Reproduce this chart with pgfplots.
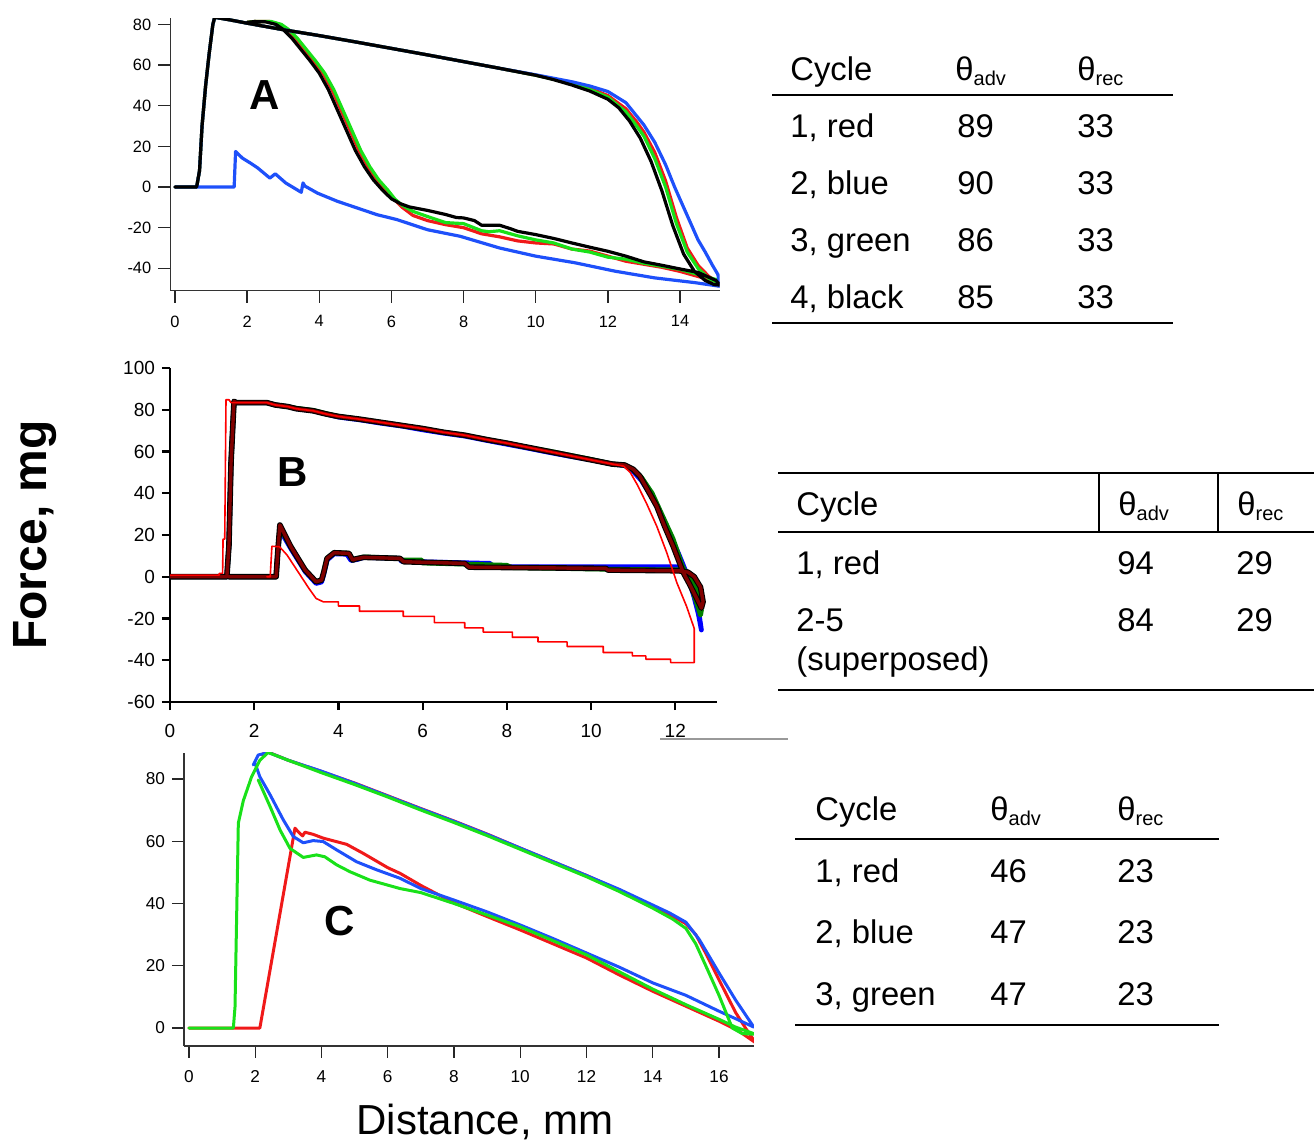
\documentclass[border=0pt]{standalone}
\usepackage{fontspec}
\setmainfont{Liberation Sans}
\usepackage{pgfplots}
\pgfplotsset{compat=1.18}

\definecolor{aRed}{RGB}{240,25,25}
\definecolor{aGreen}{RGB}{25,225,25}
\definecolor{aBlue}{RGB}{30,80,250}
\definecolor{bBlue}{RGB}{0,0,255}
\definecolor{bGreen}{RGB}{0,128,0}
\definecolor{bMaroon}{RGB}{128,0,0}
\definecolor{bRed}{RGB}{255,0,0}

\newcommand{\thsub}[1]{θ\raisebox{-2.6pt}{\fontsize{10}{12}\selectfont #1}}

\pgfplotsset{
  panel/.style={
    scale only axis,
    axis x line*=bottom, axis y line*=left,
    axis line style={-},
    tick align=outside, major tick length=6pt,
    /pgf/number format/assume math mode=true,
    every axis plot/.append style={line join=round, line cap=round},
  }
}

\begin{document}
\begin{tikzpicture}
\path[use as bounding box] (0,0) rectangle (657pt,-573.5pt);

% ---------------- panel A ----------------
\begin{axis}[panel,
  at={(85.15pt,-145.25pt)}, anchor=south west,
  width=274.7pt, height=136.1pt,
  xmin=-0.13, xmax=15.1, ymin=-50.9, ymax=83,
  xtick={0,2,...,14}, ytick={-40,-20,...,80},
  axis line style={black!80, line width=0.6pt},
  tick style={black!85, line width=0.7pt},
  tick label style={font=\fontsize{8.2}{9}\selectfont},
  xticklabel shift=3pt,
]
% cycle 1, red
\addplot[aRed, line width=1.6pt] coordinates {
 (0,0) (0.6,0) (0.68,8) (0.75,30) (0.85,50) (0.95,66) (1.05,80) (1.1,83.5) (1.5,82.3)
 (2,80.6) (3,77.4) (4,74.5) (5,71.4) (6,68.2) (7,65) (8,61.7) (9,58.4) (10,55)
 (10.5,53.2) (11,51) (11.5,48.5) (12,45) (12.5,38.5) (12.8,32) (13,27) (13.3,17)
 (13.6,3) (13.9,-15) (14.2,-30) (14.5,-38.5) (14.8,-44) (15.05,-47) (15.1,-47.5)
 (15,-46.5) (14.5,-44) (14,-41.5) (13.5,-39.5) (13,-38) (12.5,-36.5) (12,-34)
 (11.5,-31.5) (11,-30.5) (10.5,-28) (10,-27.5) (9.5,-26.5) (9,-24.5) (8.5,-23)
 (8,-20) (7.5,-18.5) (7,-16.5) (6.6,-14) (6.3,-10) (6.1,-6.5) (5.85,-1.5) (5.6,3.5)
 (5.35,10) (5.1,18) (4.85,28) (4.6,38) (4.35,48) (4.1,56) (3.85,62) (3.6,67.5)
 (3.35,73) (3.1,77.5) (2.9,80) (2.6,81.5) (2.2,81.4) (2,81)
};
% cycle 3, green
\addplot[aGreen, line width=1.6pt] coordinates {
 (0,0) (0.6,0) (0.68,8) (0.75,30) (0.85,50) (0.95,66) (1.05,80) (1.1,83.5) (1.5,82.3)
 (2,80.6) (3,77.4) (4,74.5) (5,71.4) (6,68.2) (7,65) (8,61.7) (9,58.4) (10,55)
 (10.5,53) (11,50.8) (11.5,48) (12,44.2) (12.5,37) (12.8,30) (13,25) (13.3,14)
 (13.6,0) (13.9,-18) (14.2,-32) (14.5,-40) (14.8,-45) (15.05,-47)
 (15,-45.5) (14.5,-43) (14,-40.5) (13.5,-39) (13,-37.5) (12.5,-35.5) (12,-34.5)
 (11.5,-32) (11,-30.5) (10.5,-27.5) (10,-26) (9.5,-24) (9,-21.5) (8.7,-22) (8.5,-21.5)
 (8,-18) (7.5,-17.5) (7,-14.5) (6.6,-12) (6.3,-9) (6.1,-6) (5.9,-1.5) (5.65,3.5)
 (5.4,10) (5.15,18) (4.9,28) (4.65,38) (4.4,48) (4.15,56) (3.9,62) (3.65,67.5)
 (3.4,73) (3.15,77.5) (2.95,80) (2.65,81.5) (2.2,81.4) (2,81)
};
% cycle 2, blue
\addplot[aBlue, line width=1.6pt] coordinates {
 (0,0) (0.6,0) (0.68,8) (0.75,30) (0.85,50) (0.95,66) (1.05,80) (1.1,83.5) (1.5,82.3)
 (2,80.6) (3,77.4) (4,74.5) (5,71.4) (6,68.2) (7,65) (8,61.7) (9,58.4) (10,55.2)
 (10.5,53.5) (11,51.8) (11.5,49.7) (12,47) (12.5,41.5) (13,30.5) (13.3,22) (13.6,11)
 (13.85,0) (14.1,-10) (14.3,-18) (14.5,-26) (14.7,-32) (14.9,-38.5) (15.05,-43) (15.1,-48.8)
 (14.4,-47) (13.3,-44.7) (12.2,-41.4) (11.1,-37.3) (10,-34) (9,-30) (7.9,-24.2)
 (7,-21) (6.15,-16) (5.6,-13.6) (5.05,-10.3) (4.5,-7) (3.95,-3) (3.6,0.5) (3.55,2)
 (3.5,-2.6) (3.07,2) (2.78,6.5) (2.63,4.4) (2.3,9.3) (2.09,11.8) (1.87,14.2)
 (1.68,17.5) (1.64,0) (0.16,0)
};
% cycle 4, black
\addplot[black, line width=1.6pt] coordinates {
 (0,0) (0.6,0) (0.68,8) (0.75,30) (0.85,50) (0.95,66) (1.05,80) (1.1,83.5) (1.5,82.3)
 (2,80.6) (3,77.4) (4,74.5) (5,71.4) (6,68.2) (7,65) (8,61.7) (9,58.4) (10,55)
 (10.5,52.8) (11,50.2) (11.5,47.2) (12,43.2) (12.3,39) (12.6,32.5) (12.9,24)
 (13.2,12.5) (13.5,-2) (13.8,-19) (14.1,-33) (14.4,-41.5) (14.7,-46) (14.95,-48)
 (15.1,-48.2) (15,-46) (14.5,-42) (14,-40.3) (13.5,-38.5) (13,-36.8) (12.5,-34)
 (12,-31.6) (11.5,-29.6) (11,-27.5) (10.5,-25.3) (10,-23.4) (9.5,-21.8) (9.3,-20.5)
 (9,-18.8) (8.5,-18.8) (8.3,-16.5) (8,-15.2) (7.8,-15) (7.5,-13.5) (7,-11.5)
 (6.5,-9.8) (6.25,-8.2) (6,-5.8) (5.75,-1.5) (5.5,3.5) (5.25,10) (5,18) (4.75,28)
 (4.5,38) (4.25,48) (4,56) (3.75,62) (3.5,67.5) (3.25,73) (3,77.5) (2.8,80)
 (2.5,81.3) (2.2,81.4) (2,81)
};
\end{axis}

% ---------------- panel B ----------------
\begin{axis}[panel,
  at={(85pt,-351pt)}, anchor=south west,
  width=273.7pt, height=167pt,
  xmin=0, xmax=13, ymin=-60, ymax=100,
  xtick={0,2,...,12}, ytick={-60,-40,...,100},
  major tick length=4pt,
  axis line style={black, line width=1.1pt},
  tick style={black, line width=1.1pt},
  tick label style={font=\fontsize{9.5}{10}\selectfont},
  xticklabel shift=3.5pt,
]
% cycles 2-5 superposed
\addplot[bBlue, line width=2.4pt] coordinates {
 (0,0) (1.35,0) (1.4,15) (1.45,55) (1.52,84) (1.58,83.4) (2.3,83.4) (2.5,82.3)
 (2.8,81.5) (3,80.5) (3.4,79.5) (3.7,78) (4,76.5) (4.5,75.2) (5,73.6) (5.5,72.2)
 (6,70.4) (6.5,68.8) (7,67.4) (7.5,65.4) (8,63.5) (8.5,61.6) (9,59.6) (9.5,57.7)
 (10,56) (10.5,54) (10.8,53.3) (11,50.5) (11.2,46) (11.45,38) (11.7,28) (11.95,17)
 (12.1,10) (12.3,0) (12.45,-10) (12.55,-18) (12.62,-25.5) (12.55,-16) (12.4,-4)
 (12.25,2) (12.02,4.8) (7.66,4.8) (7.6,6.4) (5.5,7.4) (5.45,8.8) (4.6,9.3)
 (4.45,8.3) (4.3,7.8) (4.2,10.8) (3.9,11) (3.73,8) (3.65,1) (3.6,-2.5) (3.47,-3.2)
 (3.21,2.5) (2.87,13.5) (2.61,22.5) (2.56,12) (2.52,0) (1.4,0)
};
\addplot[bGreen, line width=2.4pt] coordinates {
 (0,0) (1.35,0) (1.4,15) (1.45,55) (1.52,84) (1.58,83.4) (2.3,83.4) (2.5,82.3)
 (2.8,81.5) (3,80.7) (3.4,79.7) (3.7,78.2) (4,76.8) (4.5,75.5) (5,74) (5.5,72.5)
 (6,71) (6.5,69.2) (7,67.8) (7.5,65.8) (8,64) (8.5,62) (9,60.2) (9.5,58.2)
 (10,56.2) (10.5,54) (10.8,53.5) (11,51.3) (11.2,47.5) (11.45,40) (11.7,29)
 (11.95,18) (12.15,6) (12.35,-3) (12.5,-12) (12.6,-18.4) (12.62,-16) (12.5,-6)
 (12.35,1.5) (12.2,3.3) (11.9,3.3) (10.4,3.6) (8.1,4.4) (8.0,5.5) (6.0,6.6)
 (5.98,8) (5.5,8) (5.45,8.8) (4.6,9.5) (4.4,8.5) (4.34,8) (4.25,11.2) (3.9,11.5)
 (3.73,8.8) (3.65,2) (3.6,-1.6) (3.47,-2.4) (3.21,3.2) (2.87,14.4) (2.61,23.5)
 (2.56,12) (2.52,0) (1.4,0)
};
\pgfplotstableread{
x y
0 0
1.35 0
1.4 15
1.45 55
1.52 84
1.58 83.4
2.3 83.4
2.5 82.3
2.8 81.5
3 80.5
3.4 79.5
3.7 78
4 76.8
4.5 75.5
5 74
5.5 72.5
6 71
6.5 69.2
7 67.8
7.5 65.8
8 64
8.5 62
9 60
9.5 58
10 56
10.5 54
10.8 53.5
11.0 51.5
11.16 48.2
11.36 41
11.56 33.8
11.75 24
11.95 14.6
12.19 2
12.35 -4
12.5 -10
12.62 -15
12.66 -12
12.6 -5
12.45 0
12.3 2.2
12.1 2.8
11.9 2.9
10.4 3.2
10.35 4
7.1 4.6
7.0 6.4
5.55 7.2
5.46 8.8
4.6 9.3
4.4 8.5
4.34 8
4.25 11.2
3.9 11.5
3.73 8.8
3.65 2
3.6 -1.6
3.47 -2.4
3.21 3.2
2.87 14.4
2.61 24.8
2.56 12
2.52 0
1.4 0
}\blackB
\addplot[black, line width=2.8pt] table {\blackB};
\addplot[bMaroon, line width=1.7pt] table {\blackB};
% cycle 1, thin red
\addplot[bRed, line width=0.8pt] coordinates {
 (0,0.8) (1.17,0.8) (1.17,1.6) (1.25,1.6) (1.26,18) (1.3,18) (1.33,84.8) (1.4,84.8)
 (1.45,83.4) (2.3,83.4) (2.5,82.3) (2.8,81.5) (3,80.5) (3.4,79.5) (3.7,78) (4,76.8)
 (4.5,75.5) (5,74) (5.5,72.5) (6,71) (6.5,69.2) (7,67.8) (7.5,65.8) (8,64) (8.5,62)
 (9,60) (9.5,58) (10,56) (10.5,54) (10.77,53) (10.93,50) (11.1,44) (11.32,35)
 (11.56,24.2) (11.8,11.4) (12.04,-3) (12.27,-14.3) (12.45,-24.8) (12.45,-41.1)
 (11.89,-41.1) (11.89,-39.5) (11.3,-39.5) (11.3,-37.9) (10.98,-37.9) (10.98,-36.3)
 (10.29,-36.3) (10.29,-33.4) (9.43,-33.4) (9.43,-31.2) (8.74,-31.2) (8.74,-29)
 (8.13,-29) (8.13,-26.5) (7.44,-26.5) (7.44,-24.5) (7.0,-24.5) (7.0,-22)
 (6.28,-22) (6.28,-19) (5.54,-19) (5.54,-16.5) (4.5,-16.5) (4.5,-14) (4.0,-14)
 (4.0,-12) (3.64,-12) (3.47,-10.4) (3.3,-5.6) (3.04,2.4) (2.78,10.4) (2.6,14.4)
 (2.42,14.6) (2.38,0) (2.3,0)
};
\end{axis}
\draw[black!40, line width=0.6pt] (330pt,-369.5pt) -- (394pt,-369.5pt);

% ---------------- panel C ----------------
\begin{axis}[panel,
  at={(92pt,-522.95pt)}, anchor=south west,
  width=284.9pt, height=146.7pt,
  xmin=-0.15, xmax=17.05, ymin=-5.75, ymax=88.5,
  xtick={0,2,...,16}, ytick={0,20,...,80},
  axis line style={black!80, line width=0.6pt},
  tick style={black!85, line width=0.7pt},
  tick label style={font=\fontsize{8.6}{10}\selectfont},
  xticklabel shift=3pt,
]
% cycle 1, red
\addplot[aRed, line width=1.5pt] coordinates {
 (0,0) (2.14,0) (3.2,64.2) (3.3,63) (3.43,61.7) (3.5,62.9) (3.75,62.2) (4.05,61)
 (4.76,59) (5.26,56.1) (6,51.5) (6.37,49.7) (7,45.8) (8,40.2) (9,35.8) (10,31.5)
 (11,27) (12,22.5) (13,17) (14,11.8) (15,7) (16,2.2) (16.6,-1) (17.1,-4.7)
 (16.8,0) (16.5,5) (16,15.5) (15.6,24) (15.3,30) (15,33.5) (14.5,36.5) (14,39.2)
 (13,44.3) (12,49) (11,53.4) (10,57.8) (9,62.3) (8,66.5) (7,70.5) (6,74.6)
 (5,78.7) (4,82.4) (3,86) (2.35,88.8) (2.2,87.8)
};
% cycle 2, blue
\addplot[aBlue, line width=1.5pt] coordinates {
 (1.94,84.5) (2.09,87.7) (2.4,88.5) (3,86) (4,82.5) (5,78.6) (6,74.5) (7,70.4)
 (8,66.4) (9,62.2) (10,57.8) (11,53.4) (12,49) (13,44.5) (14,39.5) (14.5,37)
 (15,34) (15.4,28.5) (16,17.7) (16.5,9) (17.05,0.3) (16.5,3) (16,5.4) (15,10.5)
 (14,14.5) (13,19.5) (12,24.1) (11,28.7) (10,33.1) (9,37.3) (8,41.1) (7,44.8)
 (6.37,48.1) (5.67,50.8) (5.06,53.4) (4.46,57.2) (4.05,59.9) (3.75,60.2)
 (3.45,59.5) (3.15,61.5) (2.85,66.8) (2.45,74.9) (2.14,80.7) (1.98,85.5)
};
% cycle 3, green
\addplot[aGreen, line width=1.5pt] coordinates {
 (0,0) (1.34,0) (1.39,6.8) (1.49,65.8) (1.64,73) (1.89,80.7) (2.14,86) (2.39,88.5)
 (3,86) (4,82) (5,78.2) (6,74.2) (7,70) (8,66) (9,61.8) (10,57.4) (11,53) (12,48.6)
 (13,43.8) (14,38.5) (14.6,35) (15,32) (15.3,27) (15.6,20) (16,10.5) (16.4,0)
 (16.7,-1.8) (17.1,-2) (16.5,0.3) (16,2.8) (15,7.5) (14,12.5) (13,18) (12,23.5)
 (11,28) (10,32.5) (9,36.3) (8,40) (7,43.5) (6.37,44.8) (6,45.9) (5.46,47.5)
 (4.86,50.2) (4.46,52.4) (4.1,55) (3.85,55.6) (3.45,54.8) (3.05,57.7) (2.75,63.6)
 (2.45,71.1) (2.09,79.7)
};
\end{axis}

% ---------------- labels ----------------
\node[rotate=90, font=\fontsize{24}{28}\bfseries\selectfont] at (17.5pt,-267.5pt) {Force, mg};
\node[font=\fontsize{21}{25}\selectfont] at (242.5pt,-561pt) {Distance, mm};
\node[font=\fontsize{21}{25}\bfseries\selectfont] at (132.5pt,-47.5pt) {A};
\node[font=\fontsize{21}{25}\bfseries\selectfont] at (146.5pt,-236pt) {B};
\node[font=\fontsize{21}{25}\bfseries\selectfont] at (170pt,-460.5pt) {C};

% ---------------- table A ----------------
\begin{scope}[every node/.style={anchor=base west, inner sep=0pt, font=\fontsize{16.4}{19}\selectfont}]
\node at (395pt,-40pt) {Cycle};
\node at (477.5pt,-40pt) {\thsub{adv}};
\node at (538.5pt,-40pt) {\thsub{rec}};
\draw[line width=1pt] (386pt,-47.5pt) -- (586.5pt,-47.5pt);
\node at (395pt,-68.5pt) {1, red};   \node at (478.5pt,-68.5pt) {89}; \node at (538.5pt,-68.5pt) {33};
\node at (395pt,-97pt) {2, blue};   \node at (478.5pt,-97pt) {90};   \node at (538.5pt,-97pt) {33};
\node at (395pt,-125.5pt) {3, green}; \node at (478.5pt,-125.5pt) {86}; \node at (538.5pt,-125.5pt) {33};
\node at (395pt,-154pt) {4, black}; \node at (478.5pt,-154pt) {85};  \node at (538.5pt,-154pt) {33};
\draw[line width=1pt] (386pt,-161.5pt) -- (586.5pt,-161.5pt);

% ---------------- table B ----------------
\draw[line width=0.8pt] (389pt,-236.5pt) -- (657pt,-236.5pt);
\draw[line width=1pt] (389pt,-266pt) -- (657pt,-266pt);
\draw[line width=1pt] (549.5pt,-236.5pt) -- (549.5pt,-266pt);
\draw[line width=1pt] (609pt,-236.5pt) -- (609pt,-266pt);
\node at (398pt,-257.5pt) {Cycle};
\node at (559pt,-257.5pt) {\thsub{adv}};
\node at (618.5pt,-257.5pt) {\thsub{rec}};
\node at (398pt,-287pt) {1, red}; \node at (558.5pt,-287pt) {94}; \node at (618pt,-287pt) {29};
\node at (398pt,-315.5pt) {2-5};  \node at (558.5pt,-315.5pt) {84}; \node at (618pt,-315.5pt) {29};
\node at (398pt,-335pt) {(superposed)};
\draw[line width=1pt] (389pt,-345pt) -- (657pt,-345pt);

% ---------------- table C ----------------
\node at (407.5pt,-410pt) {Cycle};
\node at (495pt,-410pt) {\thsub{adv}};
\node at (558.5pt,-410pt) {\thsub{rec}};
\draw[line width=1pt] (397.5pt,-419.5pt) -- (609.5pt,-419.5pt);
\node at (407.5pt,-441pt) {1, red};    \node at (495pt,-441pt) {46};   \node at (558.5pt,-441pt) {23};
\node at (407.5pt,-471.5pt) {2, blue};  \node at (495pt,-471.5pt) {47}; \node at (558.5pt,-471.5pt) {23};
\node at (407.5pt,-502.5pt) {3, green}; \node at (495pt,-502.5pt) {47}; \node at (558.5pt,-502.5pt) {23};
\draw[line width=1pt] (397.5pt,-512.5pt) -- (609.5pt,-512.5pt);
\end{scope}
\end{tikzpicture}
\end{document}
